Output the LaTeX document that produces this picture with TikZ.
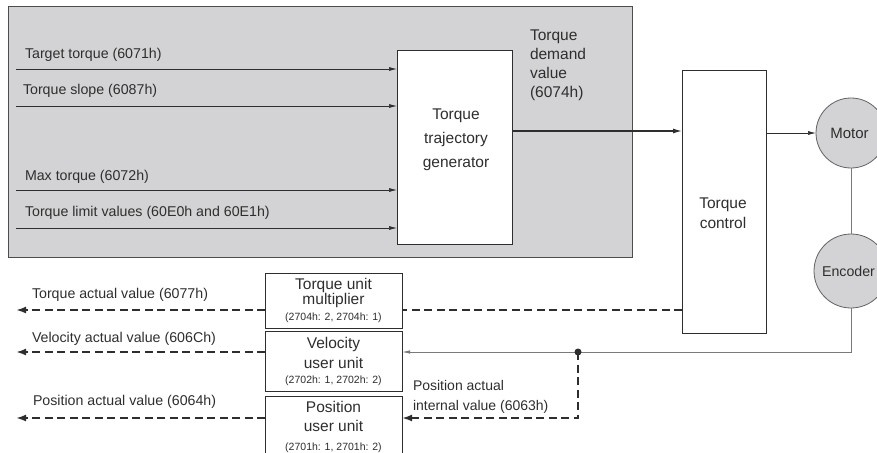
\documentclass[tikz,border=0pt]{standalone}
\usepackage{fontspec}
\setmainfont{Liberation Sans}
\usetikzlibrary{arrows.meta}
\definecolor{panelgray}{HTML}{D3D3D5}
\definecolor{linegray}{HTML}{7A7A7A}
\definecolor{ink}{HTML}{2E2E2E}
\begin{document}
\begin{tikzpicture}[x=1pt,y=-1pt,
  every node/.style={inner sep=0pt, outer sep=0pt, text=ink},
  lbl/.style={font=\fontsize{14.2}{17}\selectfont},
  word/.style={font=\fontsize{15.5}{18}\selectfont},
  panel/.style={draw=ink!85, line width=1pt, fill=panelgray},
  box/.style={draw=ink, line width=1pt, fill=white},
  roundel/.style={circle, draw=ink!75, line width=0.8pt, fill=panelgray, font=\fontsize{15}{18}\selectfont},
  arr/.style={draw=ink, line width=0.7pt, -{Latex[length=8pt,width=4pt]}},
  mainarr/.style={draw=ink, line width=1.2pt, -{Latex[length=9pt,width=5pt]}},
  fbline/.style={draw=linegray, line width=0.8pt},
  fbarr/.style={draw=linegray, line width=0.8pt, -{Latex[length=8pt,width=3.5pt]}},
  dline/.style={draw=ink, line width=2pt, dash pattern=on 8pt off 4.5pt},
  darr/.style={dline, -{Latex[length=10pt,width=7pt]}},
]
\useasboundingbox (0,0) rectangle (877,452);
\clip (0,0) rectangle (877,452);

% grey panel
\node[panel, anchor=north west, minimum width=624pt, minimum height=250pt] (panel) at (8,7) {};

% trajectory generator
\node[box, anchor=north west, minimum width=115pt, minimum height=193pt] (gen) at (397,51) {};
\node[align=center, font=\fontsize{15.5}{24}\selectfont] (gentxt) at (456,140) {Torque\\trajectory\\generator};

% torque control
\node[box, anchor=north west, minimum width=84pt, minimum height=263pt] (ctrl) at (682,70) {};
\node[align=center, font=\fontsize{15.5}{20}\selectfont] (ctrltxt) at (723,213) {Torque\\control};

% motor and encoder
\node[roundel, minimum size=70pt] (motor) at (851,133) {Motor\hspace*{3pt}};
\node[roundel, minimum size=74pt, font=\fontsize{14.2}{17}\selectfont] (enc) at (851,271) {Encoder\hspace*{5pt}};

% demand label
\node[align=left, anchor=north west, font=\fontsize{15.5}{19}\selectfont] (demand) at (530,30) {Torque\\demand\\value\\(6074h)};

% inputs
\coordinate (i1) at (16,69);
\coordinate (i2) at (16,106);
\coordinate (i3) at (16,190);
\coordinate (i4) at (16,228);
\draw[arr] (i1) -- (i1 -| gen.west);
\draw[arr] (i2) -- (i2 -| gen.west);
\draw[arr] (i3) -- (i3 -| gen.west);
\draw[arr] (i4) -- (i4 -| gen.west);
\node[lbl, anchor=west] (l1) at (25,55) {Target torque (6071h)};
\node[lbl, anchor=west] (l2) at (23,91) {Torque slope (6087h)};
\node[lbl, anchor=west] (l3) at (25,177) {Max torque (6072h)};
\node[lbl, anchor=west] (l4) at (25,213) {Torque limit values (60E0h and 60E1h)};

% main forward path
\coordinate (m) at (600,131);
\draw[mainarr] (m -| gen.east) -- (m -| ctrl.west);
\draw[arr] (ctrl.east |- motor) -- (motor.west);
\draw[fbline] (motor.south) -- (enc.north);

% lower boxes
\node[box, word, anchor=north west, minimum width=137pt, minimum height=55pt, align=center] (tum) at (265,273)
  {Torque unit\\[-3pt]multiplier\\[-2pt]{\fontsize{10.5}{12}\selectfont(2704h: 2, 2704h: 1)}};
\node[box, word, anchor=north west, minimum width=137pt, minimum height=60pt, align=center] (vuu) at (265,331)
  {Velocity\\[2pt]user unit\\[-3pt]{\fontsize{10.5}{12}\selectfont(2702h: 1, 2702h: 2)}};
\node[box, word, anchor=north west, minimum width=137pt, minimum height=62pt, align=center] (puu) at (265,396)
  {Position\\[1pt]user unit\\[1pt]{\fontsize{10.5}{12}\selectfont(2701h: 1, 2701h: 2)}};

% feedback
\coordinate (fb) at (578,352);
\coordinate (pa) at (578,418);
\coordinate (ta) at (600,310);
\draw[fbline] (enc.south) |- (fb);
\draw[fbarr] (fb) -- (fb -| vuu.east);
\draw[darr] (fb) -- (pa) -- (pa -| puu.east);
\fill[ink] (fb) circle (3.5pt);
\draw[dline] (ta -| ctrl.west) -- (ta -| tum.east);

% outputs
\coordinate (o1) at (16,310);
\coordinate (o2) at (16,352);
\coordinate (o3) at (16,418);
\draw[darr] (o1 -| tum.west) -- (o1);
\draw[darr] (o2 -| vuu.west) -- (o2);
\draw[darr] (o3 -| puu.west) -- (o3);
\node[lbl, anchor=west] (a1) at (32,295) {Torque actual value (6077h)};
\node[lbl, anchor=west] (a2) at (32,339) {Velocity actual value (606Ch)};
\node[lbl, anchor=west] (a3) at (33,402) {Position actual value (6064h)};
\node[lbl, anchor=west, align=left, font=\fontsize{14}{20}\selectfont] (pai) at (413,397) {Position actual\\internal value (6063h)};
\end{tikzpicture}
\end{document}
